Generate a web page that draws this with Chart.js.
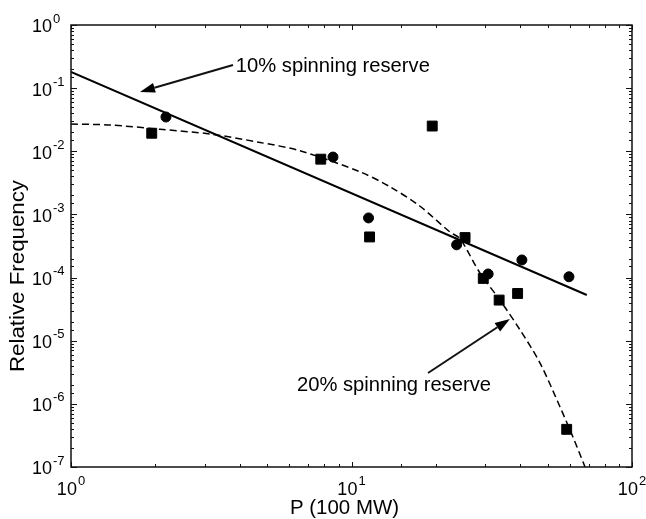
<!DOCTYPE html>
<html>
<head>
<meta charset="utf-8">
<script src="https://cdn.jsdelivr.net/npm/chart.js@4/dist/chart.umd.min.js"></script>
<style>
  html, body { margin: 0; padding: 0; background: #fff; }
  #wrap { width: 646px; height: 519px; }
</style>
</head>
<body>
<div id="wrap"><canvas id="freqChart" width="646" height="519"></canvas></div>
<script>
// observed frequencies, 10% spinning reserve (circles)
const reserve10X = [2.18, 8.59, 11.5, 23.7, 30.7, 40.5, 59.6];
const reserve10Y = [0.0349, 0.0081, 8.8e-4, 3.3e-4, 1.14e-4, 1.9e-4, 1.03e-4];

// observed frequencies, 20% spinning reserve (squares)
const reserve20X = [1.94, 7.77, 11.6, 19.4, 25.4, 29.5, 33.6, 39.1, 58.5];
const reserve20Y = [0.0193, 0.0075, 4.4e-4, 0.0251, 4.3e-4, 9.7e-5, 4.4e-5, 5.6e-5, 3.95e-7];

// power-law fit (solid)
const fit10X = [1, 69];
const fit10Y = [0.18, 5.3e-5];

// fitted curve for 20% reserve (dashed)
const fit20X = [1, 1.38, 2.08, 3.13, 4.72, 6.55, 10.7, 13.7, 17.5, 22.4, 24.4, 28.7, 33.8, 39.9, 47.0, 55.4, 61.6, 68.0];
const fit20Y = [0.027, 0.0261, 0.0223, 0.0188, 0.0138, 0.0102, 0.00475, 0.00275, 0.00136, 5.3e-4, 4.1e-4, 1.18e-4, 4.41e-5, 1.48e-5, 4.43e-6, 8.9e-7, 2.98e-7, 1.0e-7];

// axis decades
const xDecades = [0, 1, 2];
const yDecades = [0, -1, -2, -3, -4, -5, -6, -7];

const pts = (xs, ys) => xs.map((x, i) => ({ x: x, y: ys[i] }));

const FONT = '"Liberation Sans", Arial, Helvetica, sans-serif';

// annotation arrows and labels, in data coordinates
const notes = [
  { text: '10% spinning reserve', tx: 3.87, ty: 0.224, width: 194,
    from: [3.78, 0.2325], to: [1.762, 0.0869] },
  { text: '20% spinning reserve', tx: 6.39, ty: 1.99e-6, width: 194,
    from: [18.74, 3.08e-6], to: [36.7, 2.21e-5] }
];

// draw text squeezed/stretched to a given width
function fitText(ctx, text, x, y, width) {
  const w = ctx.measureText(text).width;
  ctx.save();
  ctx.translate(x, y);
  ctx.scale(width / w, 1);
  ctx.fillText(text, 0, 0);
  ctx.restore();
}

function drawArrow(ctx, x0, y0, x1, y1) {
  const ang = Math.atan2(y1 - y0, x1 - x0);
  const len = 15, half = 5;
  const bx = x1 - len * Math.cos(ang), by = y1 - len * Math.sin(ang);
  ctx.beginPath();
  ctx.moveTo(x0, y0);
  ctx.lineTo(bx, by);
  ctx.lineWidth = 2;
  ctx.stroke();
  ctx.beginPath();
  ctx.moveTo(x1, y1);
  ctx.lineTo(bx + half * Math.sin(ang), by - half * Math.cos(ang));
  ctx.lineTo(bx - half * Math.sin(ang), by + half * Math.cos(ang));
  ctx.closePath();
  ctx.fill();
}

function decadeLabel(ctx, exp, cx, cy, align) {
  ctx.font = '18px ' + FONT;
  const bw = ctx.measureText('10').width;
  ctx.font = '13px ' + FONT;
  const sup = String(exp);
  const sw = ctx.measureText(sup).width;
  const left = align === 'center' ? cx - (bw + sw + 1) / 2 : cx;
  ctx.textBaseline = 'middle';
  ctx.textAlign = 'left';
  ctx.font = '18px ' + FONT;
  ctx.fillText('10', left, cy);
  ctx.font = '13px ' + FONT;
  ctx.fillText(sup, left + bw + 1, cy - 8.5);
}

// frame, inward log ticks, labels and annotations
const framePlugin = {
  id: 'frame',
  afterDraw(chart) {
    const { ctx, chartArea: a, scales } = chart;
    const xs = scales.x, ys = scales.y;
    ctx.save();
    ctx.strokeStyle = '#111';
    ctx.fillStyle = '#111';
    ctx.lineWidth = 1.5;
    ctx.strokeRect(a.left, a.top, a.right - a.left, a.bottom - a.top);

    ctx.lineWidth = 1;
    xs.ticks.forEach(t => {
      const px = Math.round(xs.getPixelForValue(t.value)) + 0.5;
      const major = Math.abs(Math.log10(t.value) % 1) < 1e-6;
      const L = major ? 5 : 3;
      ctx.beginPath();
      ctx.moveTo(px, a.bottom); ctx.lineTo(px, a.bottom - L);
      ctx.moveTo(px, a.top); ctx.lineTo(px, a.top + L);
      ctx.stroke();
    });
    ys.ticks.forEach(t => {
      const py = Math.round(ys.getPixelForValue(t.value)) + 0.5;
      const major = Math.abs(Math.log10(t.value) % 1) < 1e-6;
      const L = major ? 6 : 3;
      ctx.beginPath();
      ctx.moveTo(a.left, py); ctx.lineTo(a.left + L, py);
      ctx.moveTo(a.right, py); ctx.lineTo(a.right - L, py);
      ctx.stroke();
    });

    ctx.fillStyle = '#000';
    yDecades.forEach(e => {
      decadeLabel(ctx, e, 32, ys.getPixelForValue(Math.pow(10, e)) + 2.5, 'left');
    });
    xDecades.forEach(e => {
      decadeLabel(ctx, e, xs.getPixelForValue(Math.pow(10, e)), 490, 'center');
    });

    // axis titles
    ctx.font = '20px ' + FONT;
    ctx.textBaseline = 'middle';
    ctx.textAlign = 'left';
    fitText(ctx, 'P (100 MW)', 290, 508, 109);
    ctx.save();
    ctx.translate(18, 372);
    ctx.rotate(-Math.PI / 2);
    fitText(ctx, 'Relative Frequency', 0, 0, 192);
    ctx.restore();

    // annotations
    notes.forEach(n => {
      ctx.font = '20px ' + FONT;
      fitText(ctx, n.text, xs.getPixelForValue(n.tx), ys.getPixelForValue(n.ty), n.width);
      drawArrow(ctx,
        xs.getPixelForValue(n.from[0]), ys.getPixelForValue(n.from[1]),
        xs.getPixelForValue(n.to[0]), ys.getPixelForValue(n.to[1]));
    });
    ctx.restore();
  }
};

new Chart(document.getElementById('freqChart'), {
  type: 'scatter',
  data: {
    datasets: [
      {
        label: '10% fit',
        data: pts(fit10X, fit10Y),
        showLine: true,
        borderColor: '#000',
        borderWidth: 2,
        pointRadius: 0
      },
      {
        label: '20% fit',
        data: pts(fit20X, fit20Y),
        showLine: true,
        borderColor: '#000',
        borderWidth: 1.5,
        borderDash: [7, 4],
        tension: 0.3,
        pointRadius: 0
      },
      {
        label: '10% spinning reserve',
        data: pts(reserve10X, reserve10Y),
        pointStyle: 'circle',
        pointRadius: 5,
        backgroundColor: '#000',
        borderColor: '#000'
      },
      {
        label: '20% spinning reserve',
        data: pts(reserve20X, reserve20Y),
        pointStyle: 'rect',
        pointRadius: 7,
        backgroundColor: '#000',
        borderColor: '#000'
      }
    ]
  },
  options: {
    responsive: false,
    animation: false,
    layout: { padding: { left: 71, top: 25, right: 14, bottom: 52 } },
    plugins: { legend: { display: false }, tooltip: { enabled: false } },
    scales: {
      x: {
        type: 'logarithmic',
        min: 1, max: 100,
        border: { display: false },
        grid: { display: false, drawTicks: false },
        ticks: { display: false, autoSkip: false }
      },
      y: {
        type: 'logarithmic',
        min: 1e-7, max: 1,
        border: { display: false },
        grid: { display: false, drawTicks: false },
        ticks: { display: false, autoSkip: false }
      }
    }
  },
  plugins: [framePlugin]
});
</script>
</body>
</html>
